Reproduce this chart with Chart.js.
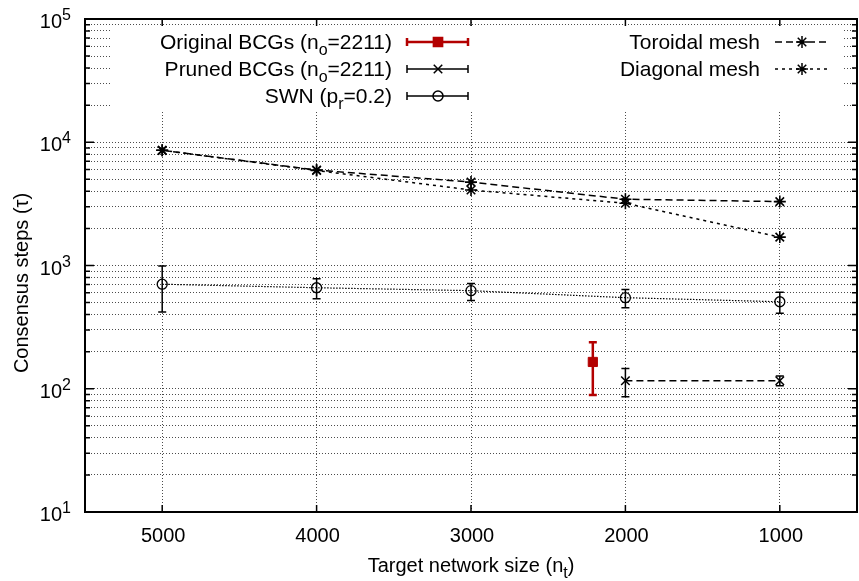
<!DOCTYPE html>
<html>
<head>
<meta charset="utf-8">
<script src="https://cdn.jsdelivr.net/npm/chart.js@4.4.0/dist/chart.umd.min.js"></script>
<style>
  html, body { margin: 0; padding: 0; background: #fff; }
  #wrap { width: 859px; height: 581px; }
</style>
</head>
<body>
<div id="wrap"><canvas id="c" width="859" height="581"></canvas></div>
<script>
// data
const sizes = [5000, 4000, 3000, 2000, 1000];
const toroidal = [8600, 5950, 4750, 3450, 3300];
const diagonal = [8600, 5900, 4100, 3200, 1700];
const swn = [705, 660, 625, 548, 508];
const swnLow = [420, 537, 520, 455, 410];
const swnHigh = [990, 780, 715, 640, 607];
const prunedSizes = [2000, 1000];
const pruned = [116, 116];
const prunedLow = [86, 106];
const prunedHigh = [146, 127];
const origSizes = [2211];
const orig = [165];
const origLow = [89];
const origHigh = [238];
const xTicks = [5000, 4000, 3000, 2000, 1000];
const yDecades = [10, 100, 1000, 10000, 100000];

const FONT = '"Liberation Sans", Arial, sans-serif';
const RED = '#b30000';

function pts(xs, ys) {
  return xs.map((x, i) => ({ x: x, y: ys[i] }));
}

// draws text with sub / sup parts, parts = [[text, kind], ...]
function richText(ctx, parts, x, y, align, size) {
  const small = Math.round(size * 0.78);
  const widths = parts.map(([t, k]) => {
    ctx.font = (k === 'n' ? size : small) + 'px ' + FONT;
    return ctx.measureText(t).width;
  });
  const total = widths.reduce((a, b) => a + b, 0);
  let cx = align === 'right' ? x - total : align === 'center' ? x - total / 2 : x;
  ctx.textAlign = 'left';
  ctx.textBaseline = 'alphabetic';
  parts.forEach(([t, k], i) => {
    ctx.font = (k === 'n' ? size : small) + 'px ' + FONT;
    const dy = k === 'sub' ? size * 0.3 : k === 'sup' ? -size * 0.4 : 0;
    ctx.fillText(t, cx, y + dy);
    cx += widths[i];
  });
}

const errorBars = {
  id: 'errorBars',
  afterDatasetsDraw(chart) {
    const ctx = chart.ctx;
    const xs = chart.scales.x, ys = chart.scales.y;
    chart.data.datasets.forEach(ds => {
      if (!ds.errLow) return;
      ctx.save();
      ctx.strokeStyle = ds.borderColor;
      ctx.lineWidth = ds.errWidth || 1.5;
      ds.data.forEach((p, i) => {
        const px = xs.getPixelForValue(p.x);
        const lo = ys.getPixelForValue(ds.errLow[i]);
        const hi = ys.getPixelForValue(ds.errHigh[i]);
        ctx.beginPath();
        ctx.moveTo(px, lo); ctx.lineTo(px, hi);
        ctx.moveTo(px - 4, lo); ctx.lineTo(px + 4, lo);
        ctx.moveTo(px - 4, hi); ctx.lineTo(px + 4, hi);
        ctx.stroke();
      });
      ctx.restore();
    });
  }
};

const legendBox = {
  id: 'legendBox',
  beforeDatasetsDraw(chart) {
    const ctx = chart.ctx;
    ctx.save();
    ctx.fillStyle = '#fff';
    ctx.fillRect(112, 27, 730, 84);
    ctx.restore();
  },
  afterDraw(chart) {
    const ctx = chart.ctx;
    const ds = chart.data.datasets;
    ctx.save();
    // left column: error-bar entries
    const left = [
      { parts: [['Original BCGs (n', 'n'], ['o', 'sub'], ['=2211)', 'n']], y: 42, d: ds[0] },
      { parts: [['Pruned BCGs (n', 'n'], ['o', 'sub'], ['=2211)', 'n']], y: 69, d: ds[1] },
      { parts: [['SWN (p', 'n'], ['r', 'sub'], ['=0.2)', 'n']], y: 96, d: ds[2] }
    ];
    left.forEach(e => {
      ctx.fillStyle = '#000';
      richText(ctx, e.parts, 392, e.y + 7, 'right', 21);
      ctx.strokeStyle = e.d.borderColor;
      ctx.lineWidth = e.d.errWidth || 1.5;
      ctx.setLineDash([]);
      ctx.beginPath();
      ctx.moveTo(407, e.y); ctx.lineTo(468, e.y);
      ctx.moveTo(407, e.y - 4); ctx.lineTo(407, e.y + 4);
      ctx.moveTo(468, e.y - 4); ctx.lineTo(468, e.y + 4);
      ctx.stroke();
      ctx.fillStyle = e.d.pointBackgroundColor;
      ctx.strokeStyle = e.d.borderColor;
      ctx.lineWidth = 1.5;
      Chart.helpers.drawPoint(ctx, { pointStyle: e.d.pointStyle, radius: e.d.pointRadius, borderWidth: 1.5, rotation: 0 }, 438, e.y);
    });
    // right column: mesh lines
    const right = [
      { text: 'Toroidal mesh', y: 42, d: ds[3] },
      { text: 'Diagonal mesh', y: 69, d: ds[4] }
    ];
    right.forEach(e => {
      ctx.fillStyle = '#000';
      richText(ctx, [[e.text, 'n']], 760, e.y + 7, 'right', 21);
      ctx.strokeStyle = '#000';
      ctx.lineWidth = 1.5;
      ctx.setLineDash(e.d.borderDash);
      ctx.beginPath();
      ctx.moveTo(775, e.y); ctx.lineTo(830, e.y);
      ctx.stroke();
      ctx.setLineDash([]);
      Chart.helpers.drawPoint(ctx, { pointStyle: 'star', radius: e.d.pointRadius, borderWidth: 1.5, rotation: 0 }, 802, e.y);
    });
    ctx.restore();
  }
};

const frame = {
  id: 'frame',
  afterDraw(chart) {
    const ctx = chart.ctx;
    const a = chart.chartArea;
    const xs = chart.scales.x, ys = chart.scales.y;
    ctx.save();
    ctx.strokeStyle = '#000';
    ctx.lineWidth = 1.5;
    ctx.beginPath();
    xTicks.forEach(v => {
      const px = xs.getPixelForValue(v);
      ctx.moveTo(px, a.bottom); ctx.lineTo(px, a.bottom - 7);
      ctx.moveTo(px, a.top); ctx.lineTo(px, a.top + 7);
    });
    ys.ticks.forEach(t => {
      const py = ys.getPixelForValue(t.value);
      const len = yDecades.includes(t.value) ? 9 : 5;
      ctx.moveTo(a.left, py); ctx.lineTo(a.left + len, py);
      ctx.moveTo(a.right, py); ctx.lineTo(a.right - len, py);
    });
    ctx.stroke();
    ctx.lineWidth = 2;
    ctx.strokeRect(a.left, a.top, a.right - a.left, a.bottom - a.top);
    // tick labels
    ctx.fillStyle = '#000';
    yDecades.forEach(v => {
      const py = ys.getPixelForValue(v);
      const exp = String(Math.round(Math.log10(v)));
      richText(ctx, [['10', 'n'], [exp, 'sup']], 71, py + 9, 'right', 20);
    });
    ctx.font = '20px ' + FONT;
    ctx.textAlign = 'center';
    ctx.textBaseline = 'alphabetic';
    xTicks.forEach(v => {
      ctx.fillText(String(v), xs.getPixelForValue(v) + 1, 542);
    });
    // axis titles
    richText(ctx, [['Target network size (n', 'n'], ['t', 'sub'], [')', 'n']], (a.left + a.right) / 2, 572, 'center', 20);
    ctx.save();
    ctx.translate(28, 283);
    ctx.rotate(-Math.PI / 2);
    ctx.font = '20px ' + FONT;
    ctx.textAlign = 'center';
    ctx.fillText('Consensus steps (\u03c4)', 0, 0);
    ctx.restore();
    ctx.restore();
  }
};

new Chart(document.getElementById('c'), {
  type: 'line',
  data: {
    datasets: [
      {
        label: 'Original BCGs',
        data: pts(origSizes, orig),
        errLow: origLow, errHigh: origHigh, errWidth: 2.5,
        borderColor: RED, backgroundColor: RED, pointBackgroundColor: RED,
        pointStyle: 'rect', pointRadius: 6.5, pointBorderWidth: 1,
        showLine: false
      },
      {
        label: 'Pruned BCGs',
        data: pts(prunedSizes, pruned),
        errLow: prunedLow, errHigh: prunedHigh,
        borderColor: '#000', backgroundColor: 'transparent', pointBackgroundColor: 'transparent',
        pointStyle: 'crossRot', pointRadius: 6, pointBorderWidth: 1.5,
        borderWidth: 1.5, borderDash: [7, 4]
      },
      {
        label: 'SWN',
        data: pts(sizes, swn),
        errLow: swnLow, errHigh: swnHigh,
        borderColor: '#000', backgroundColor: 'transparent', pointBackgroundColor: 'transparent',
        pointStyle: 'circle', pointRadius: 5, pointBorderWidth: 1.3,
        borderWidth: 1.2, borderDash: [1.5, 1.5]
      },
      {
        label: 'Toroidal mesh',
        data: pts(sizes, toroidal),
        borderColor: '#000', backgroundColor: '#000', pointBackgroundColor: '#000',
        pointStyle: 'star', pointRadius: 6, pointBorderWidth: 1.6,
        borderWidth: 1.5, borderDash: [7, 4]
      },
      {
        label: 'Diagonal mesh',
        data: pts(sizes, diagonal),
        borderColor: '#000', backgroundColor: '#000', pointBackgroundColor: '#000',
        pointStyle: 'star', pointRadius: 6, pointBorderWidth: 1.6,
        borderWidth: 1.5, borderDash: [3, 4]
      }
    ]
  },
  options: {
    responsive: false,
    animation: false,
    layout: { autoPadding: false, padding: { top: 19, right: 2, left: 0, bottom: 0 } },
    plugins: { legend: { display: false }, tooltip: { enabled: false } },
    elements: { line: { tension: 0 } },
    scales: {
      x: {
        type: 'linear',
        min: 500, max: 5500,
        reverse: true,
        afterBuildTicks: s => { s.ticks = xTicks.map(v => ({ value: v })); },
        afterFit: s => { s.height = 69; },
        ticks: { display: false },
        grid: { color: 'rgba(0,0,0,0.7)', lineWidth: 1, drawTicks: false },
        border: { display: false, dash: [1, 2] }
      },
      y: {
        type: 'logarithmic',
        min: 10, max: 100000,
        afterBuildTicks: s => {
          const t = [];
          yDecades.forEach(d => {
            for (let m = 1; m <= 9; m++) {
              if (d * m <= 100000) t.push({ value: d * m });
            }
          });
          s.ticks = t;
        },
        afterFit: s => { s.width = 85; },
        ticks: { display: false },
        grid: { color: 'rgba(0,0,0,0.7)', lineWidth: 1, drawTicks: false },
        border: { display: false, dash: [1, 2] }
      }
    }
  },
  plugins: [errorBars, legendBox, frame]
});
</script>
</body>
</html>
